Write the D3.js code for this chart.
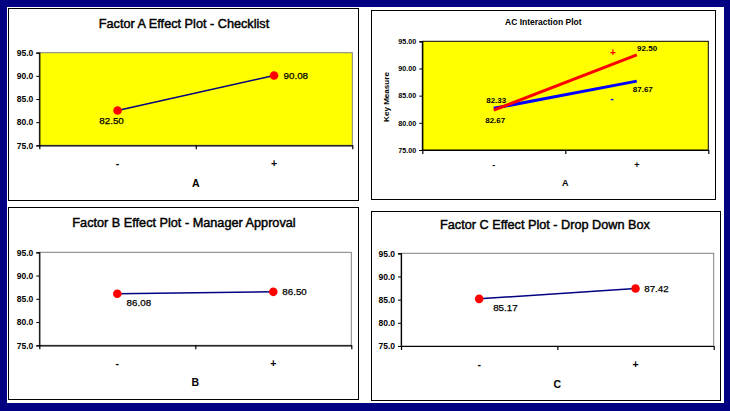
<!DOCTYPE html>
<html>
<head>
<meta charset="utf-8">
<script src="https://cdn.jsdelivr.net/npm/d3@7"></script>
<style>
  body { margin: 0; padding: 0; background: #000080; }
  svg { display: block; font-family: "Liberation Sans", Arial, sans-serif; }
</style>
</head>
<body>
<div id="chart"></div>
<script>
// factor levels and the y axis
var levels = ["-", "+"];
var yTicks = [75, 80, 85, 90, 95];

// main effects (mean of key measure at low / high level)
var factorA = [82.50, 90.08];
var factorB = [86.08, 86.50];
var factorC = [85.17, 87.42];

// AC interaction, one line per level of C
var acPlus = [82.33, 92.50];
var acMinus = [82.67, 87.67];

var titles = [
  "Factor A Effect Plot - Checklist",
  "AC Interaction Plot",
  "Factor B Effect Plot - Manager Approval",
  "Factor C Effect Plot - Drop Down Box"
];

var W = 730, H = 411;
var svg = d3.select("#chart").append("svg")
  .attr("width", W)
  .attr("height", H);

svg.append("rect").attr("width", W).attr("height", H).attr("fill", "#000080");
svg.append("rect").attr("x", 7).attr("y", 7).attr("width", 717).attr("height", 396).attr("fill", "#fff");

function panelBox(p) {
  svg.append("rect")
    .attr("x", p[0] + 0.5).attr("y", p[1] + 0.5)
    .attr("width", p[2] - p[0]).attr("height", p[3] - p[1])
    .attr("fill", "#fff").attr("stroke", "#000").attr("stroke-width", 1);
}

// draws one plot; returns scales so extra marks can be added
function drawPlot(cfg) {
  panelBox(cfg.panel);
  var pl = cfg.plot;
  var g = svg.append("g");

  var x = d3.scaleBand().domain(levels).range([pl[0], pl[2]]);
  var y = d3.scaleLinear().domain([75, 95]).range([pl[3], pl[1]]);
  var cx = function(d) { return x(d) + x.bandwidth() / 2; };

  g.append("rect")
    .attr("x", pl[0]).attr("y", pl[1])
    .attr("width", pl[2] - pl[0]).attr("height", pl[3] - pl[1])
    .attr("fill", cfg.fill)
    .attr("stroke", cfg.frame).attr("stroke-width", 1);

  var yAxis = g.append("g")
    .attr("transform", "translate(" + pl[0] + ",0)")
    .call(d3.axisLeft(y).tickValues(yTicks).tickFormat(d3.format(cfg.fmt)).tickSize(3).tickPadding(3));
  yAxis.select(".domain").attr("stroke", "#000").attr("stroke-width", 1.2);
  yAxis.selectAll("text")
    .attr("font-family", "Liberation Sans, Arial").attr("font-size", cfg.tickSize)
    .attr("font-weight", "bold").attr("fill", "#000");

  // tick marks at the band edges
  var edge = d3.scaleLinear().domain([0, 2]).range([pl[0], pl[2]]);
  var xAxis = g.append("g")
    .attr("transform", "translate(0," + pl[3] + ")")
    .call(d3.axisBottom(edge).tickValues([0, 1, 2]).tickFormat("").tickSize(4).tickSizeOuter(0));
  xAxis.select(".domain").attr("stroke", "#000").attr("stroke-width", 1.2);
  xAxis.selectAll(".tick line").attr("stroke-width", 1.2);

  g.selectAll(".lvl").data(levels).enter().append("text")
    .attr("x", cx)
    .attr("y", cfg.lvlY)
    .attr("dy", "0.35em")
    .attr("text-anchor", "middle")
    .attr("font-size", cfg.lvlSize).attr("font-weight", "bold")
    .text(function(d) { return d; });

  g.append("text")
    .attr("x", (pl[0] + pl[2]) / 2).attr("y", cfg.nameY)
    .attr("dy", "0.35em").attr("text-anchor", "middle")
    .attr("font-size", cfg.lvlSize).attr("font-weight", "bold")
    .text(cfg.axisName);

  g.append("text")
    .attr("x", cfg.titleX).attr("y", cfg.titleY)
    .attr("dy", "0.35em").attr("text-anchor", "middle")
    .attr("font-size", cfg.titleSize).attr("font-weight", cfg.titleWeight)
    .attr("fill", "#000").attr("stroke", "#000").attr("stroke-width", cfg.titleStroke || 0)
    .text(cfg.title);

  return { x: x, y: y, cx: cx, g: g };
}

function drawEffect(cfg, values, labelPos) {
  var s = drawPlot(cfg);
  var line = d3.line()
    .x(function(d, i) { return s.cx(levels[i]); })
    .y(function(d) { return s.y(d); });

  s.g.append("path").datum(values)
    .attr("d", line).attr("fill", "none")
    .attr("stroke", "#000080").attr("stroke-width", 1.5);

  s.g.selectAll(".pt").data(values).enter().append("circle")
    .attr("cx", function(d, i) { return s.cx(levels[i]); })
    .attr("cy", function(d) { return s.y(d); })
    .attr("r", 4.3).attr("fill", "#ff0000");

  s.g.selectAll(".val").data(values).enter().append("text")
    .attr("x", function(d, i) { return s.cx(levels[i]) + labelPos[i][0]; })
    .attr("y", function(d, i) { return s.y(d) + labelPos[i][1]; })
    .attr("dy", "0.35em")
    .attr("text-anchor", function(d, i) { return labelPos[i][2]; })
    .attr("font-size", 9.8)
    .attr("stroke", "#000").attr("stroke-width", 0.25)
    .text(function(d) { return d3.format(".2f")(d); });
}

var effectStyle = {
  fmt: ".1f", tickSize: 8.5, lvlSize: 10.5, titleSize: 12.7, titleWeight: "normal", titleStroke: 0.45
};

drawEffect(Object.assign({}, effectStyle, {
  panel: [8, 8, 358, 200],
  plot: [39.3, 52.7, 352.3, 145.3],
  fill: "#ffff00", frame: "#808080",
  title: titles[0], titleX: 184, titleY: 24,
  axisName: "A", lvlY: 163, nameY: 183
}), factorA, [[-6, 10, "middle"], [9.5, 0, "start"]]);

drawEffect(Object.assign({}, effectStyle, {
  panel: [8, 207, 358, 399],
  plot: [39.3, 252.3, 351.3, 345.3],
  fill: "#ffffff", frame: "#808080",
  title: titles[2], titleX: 184, titleY: 223,
  axisName: "B", lvlY: 363, nameY: 382.7
}), factorB, [[9.3, 9, "start"], [9, 0, "start"]]);

drawEffect(Object.assign({}, effectStyle, {
  panel: [371, 211, 720, 400],
  plot: [401, 253.3, 713.7, 346],
  fill: "#ffffff", frame: "#808080",
  title: titles[3], titleX: 545, titleY: 225,
  axisName: "C", lvlY: 364.3, nameY: 384.3
}), factorC, [[14, 8.3, "start"], [8.7, 0, "start"]]);

// interaction plot
var ac = drawPlot({
  panel: [371, 10, 715, 199],
  plot: [422.3, 41.3, 708.3, 150],
  fill: "#ffff00", frame: "#000",
  fmt: ".2f", tickSize: 7.2, lvlSize: 9,
  title: titles[1], titleX: 543.3, titleY: 22, titleSize: 8.5, titleWeight: "bold",
  axisName: "A", lvlY: 165, nameY: 182.7
});

svg.append("text")
  .attr("transform", "translate(386,97) rotate(-90)")
  .attr("dy", "0.35em").attr("text-anchor", "middle")
  .attr("font-size", 8.1).attr("font-weight", "bold")
  .text("Key Measure");

var acSeries = [
  { key: "+", values: acPlus, color: "#ff0000", labels: [[-7.6, -10], [0.3, -7]], tag: [-24, -2] },
  { key: "-", values: acMinus, color: "#0000ff", labels: [[-8.6, 11.7], [-4, 8]], tag: [-25, 17] }
];

var acLine = d3.line()
  .x(function(d, i) { return ac.cx(levels[i]); })
  .y(function(d) { return ac.y(d); });

// blue drawn first so red sits on top at the left end
acSeries.slice().reverse().forEach(function(s) {
  ac.g.append("path").datum(s.values)
    .attr("d", acLine).attr("fill", "none")
    .attr("stroke", s.color).attr("stroke-width", 3);
});

acSeries.forEach(function(s) {
  ac.g.selectAll(null).data(s.values).enter().append("text")
    .attr("x", function(d, i) { return ac.cx(levels[i]) + s.labels[i][0]; })
    .attr("y", function(d, i) { return ac.y(d) + s.labels[i][1]; })
    .attr("dy", "0.35em")
    .attr("font-size", 8).attr("font-weight", "bold")
    .text(function(d) { return d3.format(".2f")(d); });

  ac.g.append("text")
    .attr("x", ac.cx("+") + s.tag[0])
    .attr("y", ac.y(s.values[1]) + s.tag[1])
    .attr("dy", "0.35em").attr("text-anchor", "middle")
    .attr("font-size", 10).attr("font-weight", "bold")
    .attr("fill", s.color)
    .text(s.key);
});
</script>
</body>
</html>
